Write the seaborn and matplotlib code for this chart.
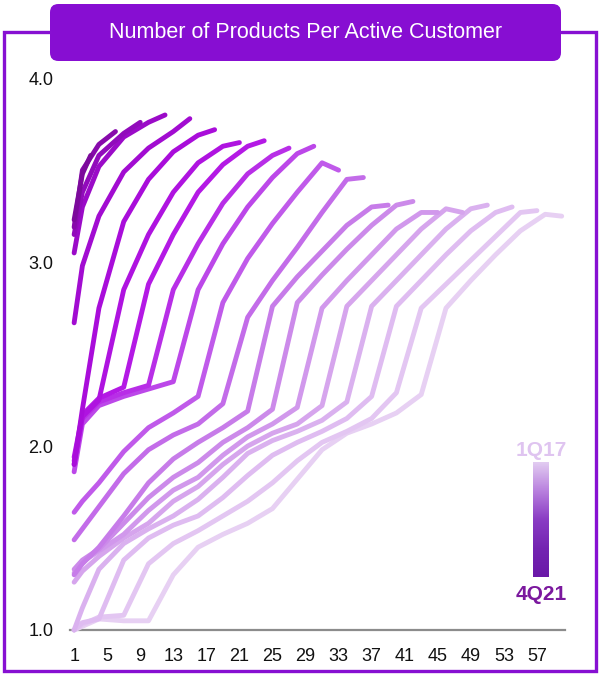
import numpy as np
import pandas as pd
import matplotlib
matplotlib.use("Agg")
import matplotlib.pyplot as plt
import seaborn as sns
from matplotlib.colors import LinearSegmentedColormap
from matplotlib.patches import FancyBboxPatch
from matplotlib.lines import Line2D

# Acquisition cohorts, oldest first
cohorts = ["1Q17", "2Q17", "3Q17", "4Q17", "1Q18", "2Q18", "3Q18", "4Q18",
           "1Q19", "2Q19", "3Q19", "4Q19", "1Q20", "2Q20", "3Q20", "4Q20",
           "1Q21", "2Q21", "3Q21", "4Q21"]

# Products per active customer by months since acquisition
# (months 1, 2, then every quarter, then the latest month)
c_1q17 = [1.00, 1.02, 1.06, 1.05, 1.05, 1.30, 1.45, 1.52, 1.58, 1.66, 1.82,
          1.98, 2.07, 2.12, 2.18, 2.28, 2.75, 2.90, 3.04, 3.17, 3.26, 3.25]
c_2q17 = [1.00, 1.03, 1.07, 1.08, 1.36, 1.47, 1.54, 1.62, 1.70, 1.80, 1.92,
          2.02, 2.08, 2.15, 2.29, 2.75, 2.88, 3.01, 3.14, 3.27, 3.28]
c_3q17 = [1.00, 1.04, 1.06, 1.38, 1.50, 1.57, 1.62, 1.72, 1.84, 1.95, 2.02,
          2.08, 2.15, 2.27, 2.76, 2.90, 3.04, 3.17, 3.27, 3.30]
c_4q17 = [1.00, 1.12, 1.33, 1.47, 1.55, 1.62, 1.71, 1.83, 1.96, 2.03, 2.08,
          2.14, 2.24, 2.76, 2.90, 3.04, 3.18, 3.29, 3.31]
c_1q18 = [1.26, 1.32, 1.40, 1.50, 1.58, 1.70, 1.78, 1.90, 2.00, 2.07, 2.12,
          2.22, 2.76, 2.90, 3.04, 3.18, 3.29, 3.27]
c_2q18 = [1.31, 1.37, 1.43, 1.52, 1.65, 1.76, 1.83, 1.95, 2.05, 2.12, 2.21,
          2.75, 2.90, 3.04, 3.18, 3.27, 3.27]
c_3q18 = [1.33, 1.38, 1.44, 1.58, 1.72, 1.83, 1.91, 2.02, 2.10, 2.20, 2.78,
          2.93, 3.07, 3.20, 3.31, 3.33]
c_4q18 = [1.30, 1.36, 1.45, 1.62, 1.80, 1.93, 2.02, 2.10, 2.19, 2.76, 2.92,
          3.06, 3.20, 3.30, 3.31]
c_1q19 = [1.49, 1.55, 1.67, 1.85, 1.98, 2.06, 2.12, 2.23, 2.70, 2.90, 3.08,
          3.27, 3.45, 3.46]
c_2q19 = [1.64, 1.70, 1.80, 1.97, 2.10, 2.18, 2.27, 2.78, 3.02, 3.21, 3.38,
          3.54, 3.50]
c_3q19 = [1.86, 2.12, 2.22, 2.27, 2.31, 2.35, 2.85, 3.10, 3.30, 3.46, 3.59,
          3.63]
c_4q19 = [1.92, 2.15, 2.24, 2.29, 2.33, 2.85, 3.10, 3.32, 3.48, 3.58, 3.62]
c_1q20 = [1.94, 2.17, 2.26, 2.32, 2.88, 3.15, 3.38, 3.53, 3.63, 3.66]
c_2q20 = [1.90, 2.16, 2.25, 2.85, 3.15, 3.38, 3.54, 3.63, 3.65]
c_3q20 = [1.90, 2.20, 2.75, 3.22, 3.45, 3.60, 3.69, 3.72]
c_4q20 = [2.67, 2.98, 3.25, 3.49, 3.62, 3.71, 3.78]
c_1q21 = [3.05, 3.30, 3.52, 3.68, 3.76, 3.80]
c_2q21 = [3.15, 3.38, 3.58, 3.70, 3.76]
c_3q21 = [3.19, 3.50, 3.64, 3.71]
c_4q21 = [3.23, 3.48, 3.58]

series = [c_1q17, c_2q17, c_3q17, c_4q17, c_1q18, c_2q18, c_3q18, c_4q18,
          c_1q19, c_2q19, c_3q19, c_4q19, c_1q20, c_2q20, c_3q20, c_4q20,
          c_1q21, c_2q21, c_3q21, c_4q21]

x_ticks = list(range(1, 58, 4))
y_ticks = [1.0, 2.0, 3.0, 4.0]


def month_grid(k):
    last = 60 - 3 * k
    return [1, 2] + list(range(4, last - 1, 3)) + [last]


rows = []
for k, (name, vals) in enumerate(zip(cohorts, series)):
    for m, v in zip(month_grid(k), vals):
        rows.append({"cohort": name, "month": m, "value": v})
df = pd.DataFrame(rows)

line_cmap = LinearSegmentedColormap.from_list(
    "cohort_lines",
    ["#E7D0F3", "#DDB8F0", "#D29BEC", "#C67AE9", "#BE52EA", "#B51AE6",
     "#A80CD9", "#960BC2", "#7C0A9C"])
palette = [line_cmap(i / (len(cohorts) - 1)) for i in range(len(cohorts))]

sns.set_theme(style="white")
plt.rcParams["font.family"] = ["Liberation Sans", "DejaVu Sans"]

W, H = 599, 674
fig = plt.figure(figsize=(W / 100, H / 100), dpi=100)
fig.patch.set_facecolor("white")


def fx(px):
    return px / W


def fy(py):
    return 1 - py / H


ax = fig.add_axes([fx(70), fy(630), fx(565) - fx(70), fy(69) - fy(630)])
sns.lineplot(data=df, x="month", y="value", hue="cohort", hue_order=cohorts,
             palette=palette, linewidth=3.5, legend=False, estimator=None,
             sort=False, ax=ax)
for ln in ax.lines:
    ln.set_solid_capstyle("round")
    ln.set_solid_joinstyle("round")
    ln.set_clip_on(False)

ax.set_xlim(0.5, 60.4)
ax.set_ylim(1.0, 4.05)
ax.set_xticks(x_ticks)
ax.set_xticklabels([str(t) for t in x_ticks])
ax.set_yticks(y_ticks)
ax.set_yticklabels([f"{t:.1f}" for t in y_ticks])
ax.set_xlabel("")
ax.set_ylabel("")
for side in ["left", "right", "top"]:
    ax.spines[side].set_visible(False)
ax.spines["bottom"].set_color("#8c8c8c")
ax.spines["bottom"].set_linewidth(1.6)
ax.spines["bottom"].set_zorder(0.5)
ax.tick_params(axis="x", length=0, pad=13, labelsize=13, colors="#111111")
ax.tick_params(axis="y", length=0, pad=12, labelsize=13, colors="#111111")
ax.grid(False)

# Outer frame with title tab
frame_color = "#8710D2"
fx_pts = [fx(50), fx(4), fx(4), fx(596), fx(596), fx(561)]
fy_pts = [fy(32), fy(32), fy(671), fy(671), fy(32), fy(32)]
fig.add_artist(Line2D(fx_pts, fy_pts, transform=fig.transFigure,
                      color=frame_color, linewidth=2.4,
                      solid_joinstyle="miter"))
tab = FancyBboxPatch((fx(50), fy(61)), fx(561) - fx(50), fy(4) - fy(61),
                     boxstyle="round,pad=0,rounding_size=0.014",
                     mutation_aspect=W / H,
                     transform=fig.transFigure, facecolor="#870ED2",
                     edgecolor="none")
fig.add_artist(tab)
fig.text(fx(305.5), fy(33), "Number of Products Per Active Customer",
         ha="center", va="center", color="white", fontsize=15.5)

# Cohort colour key
cax = fig.add_axes([fx(533), fy(577), fx(549) - fx(533), fy(462) - fy(577)])
key_cmap = LinearSegmentedColormap.from_list(
    "cohort_key", ["#E2CCF1", "#B880DE", "#8A3CC4", "#7424B2", "#6A18A8"])
cax.imshow(np.linspace(0, 1, 200).reshape(-1, 1), aspect="auto",
           cmap=key_cmap, extent=[0, 1, 0, 1], origin="upper")
cax.axis("off")
fig.text(fx(541), fy(451), cohorts[0], ha="center", va="center",
         color="#DFC4F0", fontsize=15, fontweight="bold")
fig.text(fx(541), fy(595), cohorts[-1], ha="center", va="center",
         color="#7B189E", fontsize=15, fontweight="bold")

fig.savefig("out.png", dpi=100, facecolor="white")
